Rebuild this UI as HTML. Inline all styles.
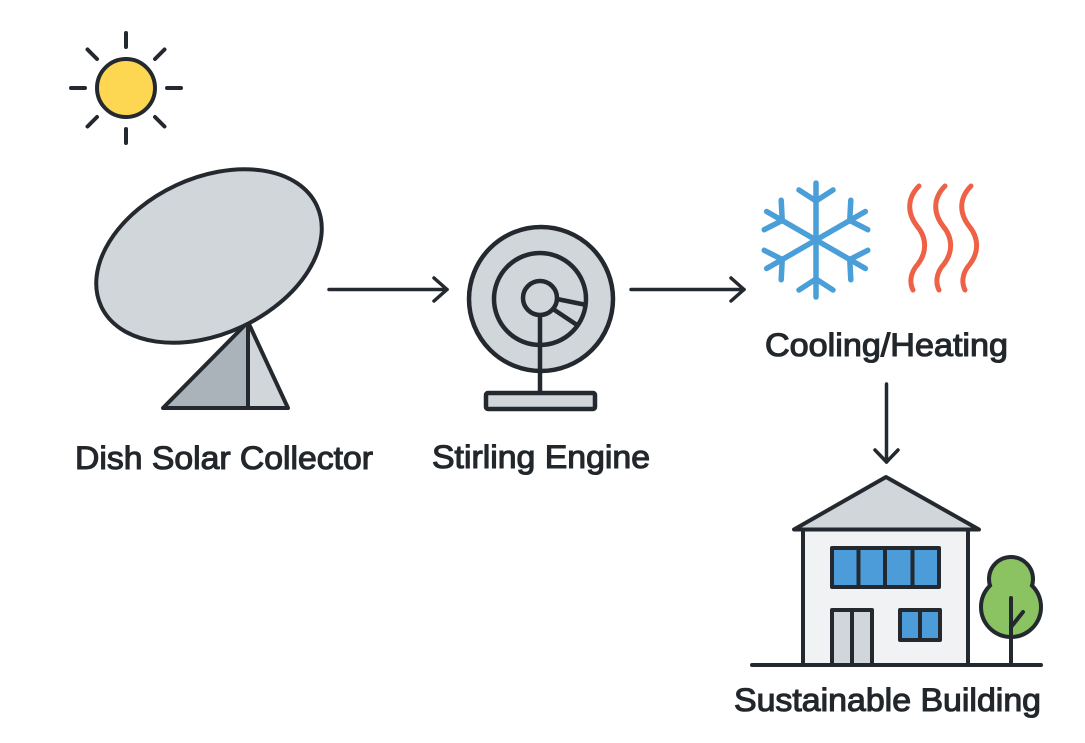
<!DOCTYPE html>
<html>
<head>
<meta charset="utf-8">
<style>
  html, body { margin: 0; padding: 0; background: #ffffff; }
  body { width: 1085px; height: 743px; overflow: hidden; }
  svg { display: block; }
  .lbl { font-family: "Liberation Sans", "DejaVu Sans", sans-serif; font-size: 32px; fill: #22272b; stroke: #22272b; stroke-width: 1.1px; }
</style>
</head>
<body>
<svg width="1085" height="743" viewBox="0 0 1085 743" xmlns="http://www.w3.org/2000/svg">
  <rect x="0" y="0" width="1085" height="743" fill="#ffffff"/>

  <!-- Sun -->
  <g stroke="#23292e" stroke-width="4" stroke-linecap="round">
    <g transform="translate(126,88)">
      <line x1="0" y1="-41" x2="0" y2="-55"/>
      <line x1="0" y1="41" x2="0" y2="55"/>
      <line x1="-41" y1="0" x2="-55" y2="0"/>
      <line x1="41" y1="0" x2="55" y2="0"/>
      <line x1="-29" y1="-29" x2="-38.5" y2="-38.5"/>
      <line x1="29" y1="-29" x2="38.5" y2="-38.5"/>
      <line x1="-29" y1="29" x2="-38.5" y2="38.5"/>
      <line x1="29" y1="29" x2="38.5" y2="38.5"/>
      <circle cx="0" cy="0" r="29" fill="#fdd652"/>
    </g>
  </g>

  <!-- Dish solar collector -->
  <g stroke="#23292e" stroke-width="4" stroke-linejoin="round" stroke-linecap="round">
    <polygon points="163,408 248,322 248,408" fill="#aab3ba"/>
    <polygon points="248,322 288,408 248,408" fill="#d0d6da"/>
    <line x1="248" y1="322" x2="248" y2="408"/>
    <ellipse cx="209" cy="256" rx="119" ry="78" transform="rotate(-25 209 256)" fill="#d0d6da"/>
  </g>

  <!-- Arrow 1 -->
  <g stroke="#23292e" stroke-width="3.5" stroke-linecap="round" stroke-linejoin="round" fill="none">
    <line x1="329" y1="289.5" x2="447" y2="289.5"/>
    <polyline points="434,278 447,289.5 434,301"/>
  </g>

  <!-- Stirling engine -->
  <g stroke="#23292e" stroke-width="4.5" stroke-linecap="round" stroke-linejoin="round">
    <circle cx="541" cy="299" r="72" fill="#d0d6da"/>
    <circle cx="540" cy="299" r="46" fill="#d0d6da"/>
    <line x1="540" y1="315" x2="540" y2="393"/>
    <line x1="557" y1="299" x2="584" y2="304.5"/>
    <line x1="553" y1="309" x2="577" y2="325"/>
    <circle cx="540" cy="298" r="17" fill="#d0d6da"/>
    <rect x="486" y="393" width="109" height="16" rx="2" fill="#d0d6da"/>
  </g>

  <!-- Arrow 2 -->
  <g stroke="#23292e" stroke-width="3.5" stroke-linecap="round" stroke-linejoin="round" fill="none">
    <line x1="631" y1="289.5" x2="744" y2="289.5"/>
    <polyline points="731,278 744,289.5 731,301"/>
  </g>

  <!-- Snowflake -->
  <g transform="translate(816,240)" stroke="#4a9fd9" stroke-width="5.5" stroke-linecap="round" fill="none">
    <g><line x1="0" y1="0" x2="0" y2="-57"/><polyline points="-17,-50 0,-39 17,-50"/></g>
    <g transform="rotate(60)"><line x1="0" y1="0" x2="0" y2="-57"/><polyline points="-17,-50 0,-39 17,-50"/></g>
    <g transform="rotate(120)"><line x1="0" y1="0" x2="0" y2="-57"/><polyline points="-17,-50 0,-39 17,-50"/></g>
    <g transform="rotate(180)"><line x1="0" y1="0" x2="0" y2="-57"/><polyline points="-17,-50 0,-39 17,-50"/></g>
    <g transform="rotate(240)"><line x1="0" y1="0" x2="0" y2="-57"/><polyline points="-17,-50 0,-39 17,-50"/></g>
    <g transform="rotate(300)"><line x1="0" y1="0" x2="0" y2="-57"/><polyline points="-17,-50 0,-39 17,-50"/></g>
  </g>

  <!-- Heat waves -->
  <g stroke="#ee6146" stroke-width="5" stroke-linecap="round" fill="none">
    <path d="M919,186 C907,198 907,213 917,226 C927,238 927,252 918,264 C909,274 910,284 913,290"/>
    <path d="M945,186 C933,198 933,213 943,226 C953,238 953,252 944,264 C935,274 936,284 939,290"/>
    <path d="M971,186 C959,198 959,213 969,226 C979,238 979,252 970,264 C961,274 962,284 965,290"/>
  </g>

  <!-- Down arrow -->
  <g stroke="#23292e" stroke-width="3.5" stroke-linecap="round" stroke-linejoin="round" fill="none">
    <line x1="886.5" y1="384" x2="886.5" y2="462"/>
    <polyline points="875,450 886.5,462 898,450"/>
  </g>

  <!-- House -->
  <g stroke="#23292e" stroke-width="4" stroke-linejoin="round" stroke-linecap="round">
    <rect x="803" y="529" width="165" height="136" fill="#f1f2f3"/>
    <polygon points="886,477 794,529.5 979,529.5" fill="#d0d6da"/>
    <rect x="832" y="548" width="107" height="39" fill="#4b9cd8"/>
    <line x1="858.5" y1="548" x2="858.5" y2="587"/>
    <line x1="885" y1="548" x2="885" y2="587"/>
    <line x1="912.5" y1="548" x2="912.5" y2="587"/>
    <rect x="832" y="610" width="40" height="55" fill="#d0d6da"/>
    <line x1="852" y1="610" x2="852" y2="665"/>
    <rect x="900" y="610" width="40" height="30" fill="#4b9cd8"/>
    <line x1="920" y1="610" x2="920" y2="640"/>
  </g>

  <!-- Tree: outline of union, then fills -->
  <g stroke="#23292e" stroke-width="8" fill="#23292e">
    <circle cx="1011" cy="579" r="20"/>
    <circle cx="1011" cy="607" r="28"/>
  </g>
  <g fill="#8cc362">
    <circle cx="1011" cy="579" r="20"/>
    <circle cx="1011" cy="607" r="28"/>
  </g>
  <g stroke="#23292e" stroke-width="4" stroke-linecap="round">
    <line x1="1011" y1="598" x2="1011" y2="665"/>
    <line x1="1011" y1="627" x2="1023" y2="612"/>
  </g>

  <!-- Ground -->
  <line x1="752" y1="665" x2="1041" y2="665" stroke="#23292e" stroke-width="4" stroke-linecap="round"/>

  <!-- Labels -->
  <text class="lbl" x="75" y="469" textLength="298" lengthAdjust="spacingAndGlyphs">Dish Solar Collector</text>
  <text class="lbl" x="432" y="468" textLength="218" lengthAdjust="spacingAndGlyphs">Stirling Engine</text>
  <text class="lbl" x="765" y="356" textLength="243" lengthAdjust="spacingAndGlyphs">Cooling/Heating</text>
  <text class="lbl" x="734" y="711" textLength="307" lengthAdjust="spacingAndGlyphs">Sustainable Building</text>
</svg>
</body>
</html>
